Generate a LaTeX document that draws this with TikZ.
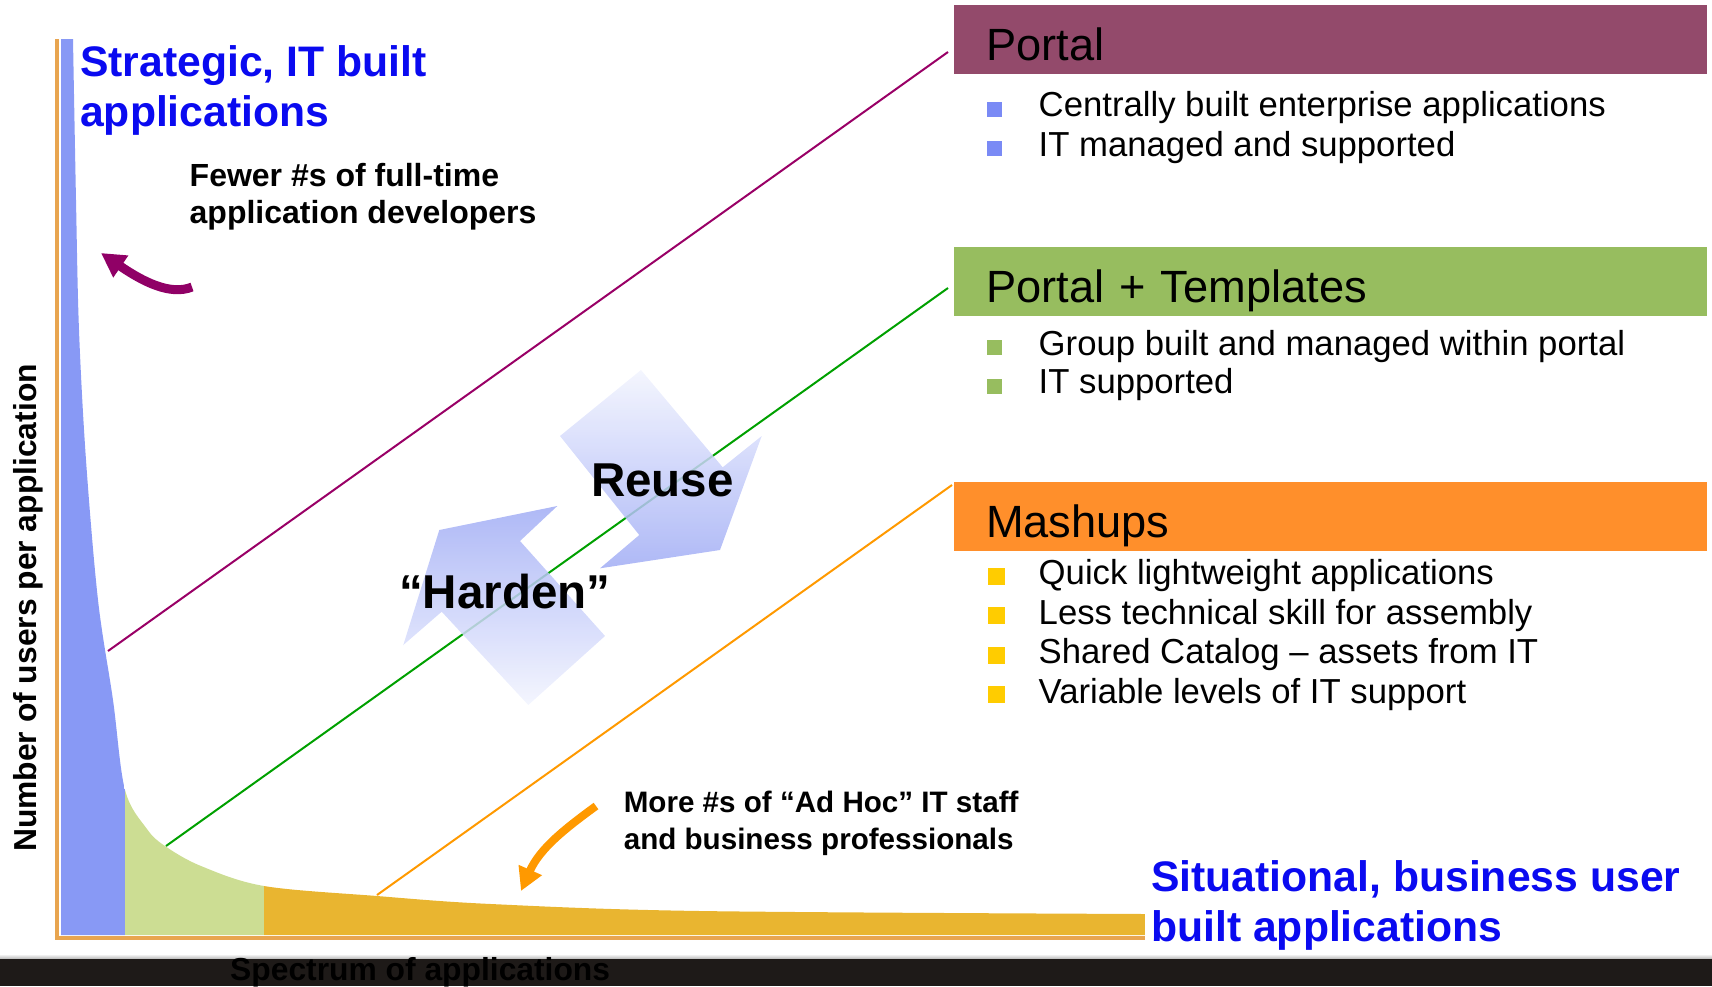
\documentclass[tikz,border=0pt]{standalone}
\usepackage{fontspec}
\setmainfont{Liberation Sans}
\usetikzlibrary{arrows.meta}
\definecolor{portalc}{RGB}{147,74,107}
\definecolor{templc}{RGB}{151,189,95}
\definecolor{mashc}{RGB}{255,143,43}
\definecolor{bulblue}{RGB}{122,138,245}
\definecolor{bulyel}{RGB}{255,204,0}
\definecolor{tailblue}{RGB}{136,153,245}
\definecolor{tailgreen}{RGB}{204,221,147}
\definecolor{tailorange}{RGB}{233,181,48}
\definecolor{axisc}{RGB}{232,165,80}
\definecolor{titleblue}{RGB}{10,10,240}
\definecolor{linepurple}{RGB}{153,0,102}
\definecolor{linegreen}{RGB}{0,160,0}
\definecolor{lineorange}{RGB}{255,153,0}
\definecolor{arrowpurple}{RGB}{144,0,102}
\definecolor{shadedark}{RGB}{160,172,245}
\definecolor{shadelight}{RGB}{242,244,254}
\definecolor{barc}{RGB}{30,26,24}
\newcommand{\itemsq}[3]{\textcolor{#1}{\rule{#2}{#2}}\hspace{#3}}
\begin{document}
\begin{tikzpicture}[x=1pt,y=-1pt,
  lbl/.style={inner sep=0pt,anchor=base west},
  bigblue/.style={lbl,text=titleblue,font=\fontsize{42.7}{50}\selectfont\bfseries},
  note/.style={lbl,font=\fontsize{32}{36.5}\selectfont\bfseries},
  axislbl/.style={lbl,font=\fontsize{31.8}{38}\selectfont\bfseries},
  cyclelbl/.style={lbl,font=\fontsize{47.5}{52}\selectfont\bfseries},
  hdr/.style={anchor=north west,minimum width=753pt,minimum height=69pt,
    inner xsep=32pt,inner ysep=0pt,text width=689pt,align=left,
    text height=41pt,text depth=0pt,font=\fontsize{45.2}{50}\selectfont},
  item/.style={lbl,font=\fontsize{34.7}{39}\selectfont},
  bigarrow/.style={fill opacity=0.85,shading angle=-45},
  tieline/.style={line width=2pt}]
  \useasboundingbox (0,0) rectangle (1712,986);

  % long tail of applications
  \begin{scope}
    \clip (61,935) -- (61,39) -- plot[smooth,tension=0.55] coordinates
      {(73,39) (76,200) (79,330) (86,460) (98,600) (113,700) (125,790)
       (147,829) (165,846) (201,866) (264,886) (377,896) (491,904)
       (700,911) (1145,914)} -- (1145,935) -- cycle;
    \fill[tailblue] (61,30) rectangle (125,940);
    \fill[tailgreen] (125,30) rectangle (264,940);
    \fill[tailorange] (264,30) rectangle (1145,940);
  \end{scope}
  \draw[axisc,line width=4pt] (57,39) -- (57,938) -- (1145,938);

  % tie lines to the boxes
  \coordinate (ptail) at (108,651);
  \coordinate (phead) at (948,52);
  \coordinate (ttail) at (166,846);
  \coordinate (thead) at (948,288);
  \coordinate (mtail) at (377,895);
  \coordinate (mhead) at (952,485);
  \draw[tieline,linepurple] (ptail) -- (phead);
  \draw[tieline,linegreen] (ttail) -- (thead);
  \draw[tieline,lineorange] (mtail) -- (mhead);

  % boxes
  \node[hdr,fill=portalc] (portal) at (954,5) {Portal};
  \node[item] (p1) at (987,116.7) {\itemsq{bulblue}{15pt}{36.5pt}Centrally built enterprise applications};
  \node[item] (p2) at (987,156) {\itemsq{bulblue}{15pt}{36.5pt}IT managed and supported};
  \node[hdr,fill=templc] (templ) at (954,247) {Portal + Templates};
  \node[item] (t1) at (987,355) {\itemsq{templc}{15pt}{36.5pt}Group built and managed within portal};
  \node[item] (t2) at (987,393.5) {\itemsq{templc}{15pt}{36.5pt}IT supported};
  \node[hdr,fill=mashc] (mash) at (954,482) {Mashups};
  \node[item] (m1) at (988,584.5) {\itemsq{bulyel}{17pt}{33.5pt}Quick lightweight applications};
  \node[item] (m2) at (988,624) {\itemsq{bulyel}{17pt}{33.5pt}Less technical skill for assembly};
  \node[item] (m3) at (988,663.5) {\itemsq{bulyel}{17pt}{33.5pt}Shared Catalog – assets from IT};
  \node[item] (m4) at (988,703) {\itemsq{bulyel}{17pt}{33.5pt}Variable levels of IT support};

  % reuse / harden
  \shade[bigarrow,top color=shadelight,bottom color=shadedark]
    (641,370) -- (722.7,467.3) -- (761.7,436) -- (720,550) -- (600,568.3)
    -- (639.3,535) -- (560,436) -- cycle;
  \shade[bigarrow,top color=shadedark,bottom color=shadelight]
    (557.3,506) -- (520,541) -- (605,636) -- (528.3,705) -- (441.7,611.7)
    -- (403.3,645) -- (439.3,530) -- cycle;
  \node[cyclelbl] (reuse) at (591,496.7) {Reuse};
  \node[cyclelbl] (harden) at (399,608.3) {“Harden”};

  % labels
  \node[bigblue] (strat) at (80,76) {\begin{tabular}[t]{@{}l@{}}Strategic, IT built\\applications\end{tabular}};
  \node[note] (fewer) at (189.5,186.7) {\begin{tabular}[t]{@{}l@{}}Fewer \#s of full-time\\application developers\end{tabular}};
  \coordinate (ftail) at (192,287);
  \coordinate (fhead) at (101,253);
  \draw[arrowpurple,line width=9pt,-{Triangle[length=24pt,width=25pt]}]
    (ftail) .. controls (170,296) and (142,281) .. (fhead);
  \node[note,font=\fontsize{29.6}{36.6}\selectfont\bfseries] (more) at (623.6,812.7)
    {\begin{tabular}[t]{@{}l@{}}More \#s of “Ad Hoc” IT staff\\and business professionals\end{tabular}};
  \coordinate (otail) at (596,806);
  \coordinate (ohead) at (521,891);
  \draw[lineorange,line width=8pt,-{Triangle[length=23pt,width=24pt]}]
    (otail) .. controls (566,828) and (540,848) .. (ohead);
  \node[bigblue] (situ) at (1151,891.7) {\begin{tabular}[t]{@{}l@{}}Situational, business user\\built applications\end{tabular}};
  \node[axislbl,rotate=90] (ylbl) at (36.6,852) {Number of users per application};

  % bottom bar
  \shade[top color=white,bottom color=gray!70] (0,954) rectangle (1712,960);
  \fill[barc] (0,959) rectangle (1712,986);
  \node[axislbl] (xlbl) at (230,980.5) {Spectrum of applications};
\end{tikzpicture}
\end{document}
